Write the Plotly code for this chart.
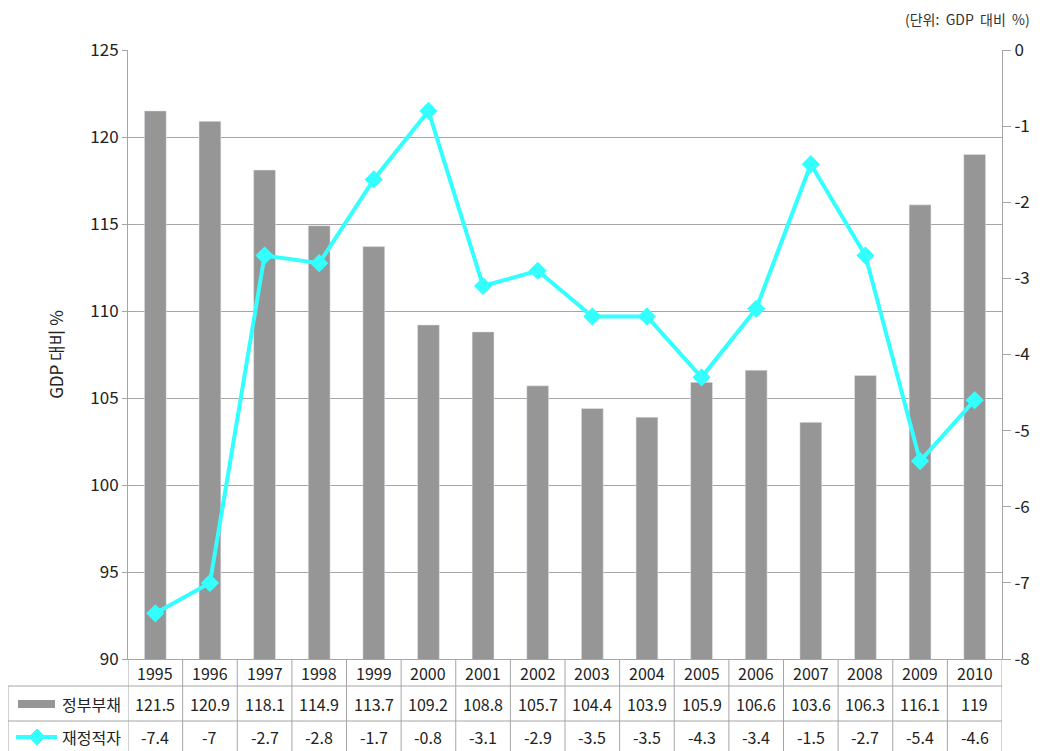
import plotly.graph_objects as go

years = [1995, 1996, 1997, 1998, 1999, 2000, 2001, 2002, 2003, 2004, 2005, 2006, 2007, 2008, 2009, 2010]
debt = [121.5, 120.9, 118.1, 114.9, 113.7, 109.2, 108.8, 105.7, 104.4, 103.9, 105.9, 106.6, 103.6, 106.3, 116.1, 119]
deficit = [-7.4, -7, -2.7, -2.8, -1.7, -0.8, -3.1, -2.9, -3.5, -3.5, -4.3, -3.4, -1.5, -2.7, -5.4, -4.6]
series_names = ["정부부채", "재정적자"]
left_ticks = [90, 95, 100, 105, 110, 115, 120, 125]
right_ticks = [0, -1, -2, -3, -4, -5, -6, -7, -8]
right_tick_text = ["0", "-1", "-2", "-3", "-4", "-5", "-6", "-7", "-8"]

BAR = "#969696"
CYAN = "#33FFFF"
GRID = "#A6A6A6"
FONT = "Noto Sans CJK KR"
TXT = "#222222"

OFF = 8  # default page body margin
W, H = 1042 - OFF, 751 - OFF
L, T = 128 - OFF, 50 - OFF
R = W - (1002 - OFF)
B = H - (659 - OFF)
pw, ph = W - L - R, H - T - B


def py(Y):
    # Y: page pixel (reference coords)
    return ((659 - OFF) - (Y - OFF)) / ph


def px(X):
    return ((X - OFF) - L) / pw


fig = go.Figure()
fig.add_trace(go.Bar(x=years, y=debt, name=series_names[0], marker_color=BAR,
                     width=0.4, yaxis="y"))
fig.add_trace(go.Scatter(x=years, y=deficit, name=series_names[1], mode="lines+markers",
                         line=dict(color=CYAN, width=4),
                         marker=dict(symbol="diamond", size=14, color=CYAN),
                         yaxis="y2"))

shapes = []
annotations = []

y_top1 = py(686)
y_top2 = py(721)
y_bot = py(760)
x_left = px(8)

shapes.append(dict(type="line", xref="paper", yref="paper", x0=x_left, x1=1, y0=y_top1, y1=y_top1,
                   line=dict(color=GRID, width=1)))
shapes.append(dict(type="line", xref="paper", yref="paper", x0=x_left, x1=1, y0=y_top2, y1=y_top2,
                   line=dict(color=GRID, width=1)))
for i in range(len(years) + 1):
    xv = years[0] - 0.5 + i
    shapes.append(dict(type="line", xref="x", yref="paper", x0=xv, x1=xv, y0=0, y1=y_bot,
                       line=dict(color=GRID, width=1)))
shapes.append(dict(type="line", xref="paper", yref="paper", x0=x_left, x1=x_left, y0=y_top1, y1=y_bot,
                   line=dict(color=GRID, width=1)))

row_y = [py(673), py(704), py(737)]
for yr, d, f in zip(years, debt, deficit):
    for txt, ry in ((str(yr), row_y[0]), (f"{d:g}", row_y[1]), (f"{f:g}", row_y[2])):
        annotations.append(dict(x=yr, y=ry, xref="x", yref="paper", text=txt,
                                xanchor="center", yanchor="middle",
                                showarrow=False, font=dict(size=16, color=TXT)))

# legend samples in table
shapes.append(dict(type="rect", xref="paper", yref="paper", x0=px(18), x1=px(55),
                   y0=py(708), y1=py(700), fillcolor=BAR, line=dict(width=0)))
shapes.append(dict(type="line", xref="paper", yref="paper", x0=px(16), x1=px(57),
                   y0=py(737), y1=py(737), line=dict(color=CYAN, width=4)))
cx, cy = 37, 737
dx, dy = 8, 8
path = (f"M {px(cx-dx)},{py(cy)} L {px(cx)},{py(cy-dy)} L {px(cx+dx)},{py(cy)} "
        f"L {px(cx)},{py(cy+dy)} Z")
shapes.append(dict(type="path", xref="paper", yref="paper", path=path,
                   fillcolor=CYAN, line=dict(color=CYAN, width=1)))
for name, ry in zip(series_names, row_y[1:]):
    annotations.append(dict(x=px(123), y=ry, xref="paper", yref="paper", text=name,
                            xanchor="right", yanchor="middle", showarrow=False,
                            font=dict(size=16, color=TXT)))

annotations.append(dict(x=px(1032), y=py(19), xref="paper", yref="paper",
                        text="(단위:  GDP  대비  %)",
                        xanchor="right", yanchor="middle", showarrow=False,
                        font=dict(size=14, color="#333", family=FONT)))

fig.update_layout(
    width=W, height=H,
    margin=dict(l=L, r=R, t=T, b=B),
    paper_bgcolor="white", plot_bgcolor="white",
    showlegend=False,
    font=dict(family=FONT, size=16, color=TXT),
    xaxis=dict(range=[years[0] - 0.5, years[-1] + 0.5], showticklabels=False, ticks="",
               showgrid=False, showline=True, linecolor=GRID, linewidth=1, zeroline=False),
    yaxis=dict(range=[90, 125], tickvals=left_ticks, showgrid=True, gridcolor=GRID, gridwidth=1,
               showline=True, linecolor=GRID, linewidth=1, ticks="outside", ticklen=5,
               tickcolor=GRID, zeroline=False,
               title=dict(text="GDP 대비 %", font=dict(size=17), standoff=22),
               tickfont=dict(size=17)),
    yaxis2=dict(range=[-8, 0], tickvals=right_ticks, ticktext=right_tick_text,
                overlaying="y", side="right",
                showgrid=False, showline=True, linecolor=GRID, linewidth=1, ticks="outside",
                ticklen=8, tickcolor=GRID, zeroline=False, tickfont=dict(size=17)),
    shapes=shapes,
    annotations=annotations,
)

fig.write_html("out.html")
